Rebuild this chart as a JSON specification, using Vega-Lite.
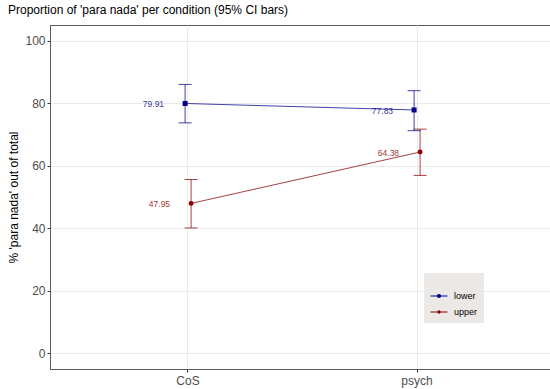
{
  "$schema": "https://vega.github.io/schema/vega-lite/v6.json",
  "width": 500,
  "height": 344,
  "autosize": {"type": "none"},
  "padding": {"left": 50, "top": 25, "right": 0, "bottom": 20},
  "title": {"text": "Proportion of 'para nada' per condition (95% CI bars)", "anchor": "start", "fontSize": 12, "fontWeight": "normal", "color": "#000000", "offset": 8, "baseline": "bottom", "dy": 12},
  "data": {"values": [
    {"condition": "CoS", "group": "lower", "value": 79.91, "lo": 73.7, "hi": 86.0},
    {"condition": "psych", "group": "lower", "value": 77.83, "lo": 71.2, "hi": 84.0},
    {"condition": "CoS", "group": "upper", "value": 47.95, "lo": 40.1, "hi": 55.6},
    {"condition": "psych", "group": "upper", "value": 64.38, "lo": 56.9, "hi": 71.7}
  ]},
  "encoding": {
    "x": {"field": "condition", "type": "nominal", "scale": {"type": "band", "paddingInner": 0, "paddingOuter": 0.1026, "range": [0, 505]},
      "axis": {"title": null, "labelAngle": 0, "labelFontSize": 12, "labelColor": "#4D4D4D", "tickColor": "#333333", "tickSize": 3, "labelPadding": 3, "domainColor": "#5a5a5a", "grid": true, "gridColor": "#EBEBEB", "bandPosition": 0.5}},
    "xOffset": {"field": "group", "type": "nominal", "scale": {"type": "point", "range": [108.6, 120.6]}}
  },
  "layer": [
    {"mark": {"type": "line", "strokeWidth": 1, "opacity": 0.75},
     "encoding": {
       "color": {"field": "group", "type": "nominal", "scale": {"domain": ["lower", "upper"], "range": ["#00008B", "#8B0000"]}},
       "y": {"field": "value", "type": "quantitative", "scale": {"domain": [-5, 105], "nice": false, "zero": false},
       "axis": {"title": "% 'para nada' out of total", "titleFontSize": 12, "titleFontWeight": "normal", "titleColor": "#000000", "titlePadding": 4,
         "values": [0, 10, 20, 30, 40, 50, 60, 70, 80, 90, 100],
         "labelExpr": "datum.value % 20 === 0 ? datum.label : ''",
         "labelFontSize": 12, "labelColor": "#4D4D4D", "labelPadding": 2, "tickSize": 3,
         "tickColor": {"condition": {"test": "datum.value % 20 === 0", "value": "#333333"}, "value": "transparent"},
         "gridColor": {"condition": {"test": "datum.value % 20 === 0", "value": "#EBEBEB"}, "value": "#F5F5F5"},
         "domainColor": "#5a5a5a"}}}},
    {"mark": {"type": "rule", "strokeWidth": 1, "opacity": 0.75},
     "encoding": {"color": {"field": "group", "type": "nominal"}, "y": {"field": "lo", "type": "quantitative"}, "y2": {"field": "hi"}}},
    {"mark": {"type": "tick", "thickness": 1, "size": 13, "opacity": 0.75},
     "encoding": {"color": {"field": "group", "type": "nominal"}, "y": {"field": "lo", "type": "quantitative"}}},
    {"mark": {"type": "tick", "thickness": 1, "size": 13, "opacity": 0.75},
     "encoding": {"color": {"field": "group", "type": "nominal"}, "y": {"field": "hi", "type": "quantitative"}}},
    {"transform": [{"filter": "datum.group === 'lower'"}],
     "mark": {"type": "point", "shape": "square", "filled": true, "opacity": 1, "size": 25},
     "encoding": {"color": {"field": "group", "type": "nominal"}, "y": {"field": "value", "type": "quantitative"}}},
    {"transform": [{"filter": "datum.group === 'upper'"}],
     "mark": {"type": "point", "shape": "circle", "filled": true, "opacity": 1, "size": 24},
     "encoding": {"color": {"field": "group", "type": "nominal"}, "y": {"field": "value", "type": "quantitative"}}},
    {"mark": {"type": "text", "align": "right", "baseline": "middle", "dx": -21, "dy": 1, "fontSize": 8.5, "opacity": 0.8},
     "encoding": {"color": {"field": "group", "type": "nominal"}, "y": {"field": "value", "type": "quantitative"}, "text": {"field": "value", "type": "quantitative", "format": ".2f"}}},
    {"transform": [{"filter": "datum.value < -1000"}],
     "mark": {"type": "point", "filled": false, "strokeWidth": 1},
     "encoding": {
       "color": {"field": "group", "type": "nominal",
         "legend": {"title": " ", "orient": "none", "legendX": 374, "legendY": 248}},
       "shape": {"field": "group", "type": "nominal", "scale": {"domain": ["lower", "upper"], "range": [
           "M-1,0H1M-0.147,-0.147H0.147V0.147H-0.147ZM-0.147,-0.06H0.147M-0.147,0.06H0.147",
           "M-1,0H1M0.15,0A0.15,0.15,0,1,1,-0.15,0A0.15,0.15,0,1,1,0.15,0ZM0.075,0A0.075,0.075,0,1,1,-0.075,0A0.075,0.075,0,1,1,0.075,0Z"]},
         "legend": {"title": " ", "orient": "none", "legendX": 374, "legendY": 248}},
       "y": {"field": "value", "type": "quantitative"}}}
  ],
  "config": {
    "font": "Liberation Sans",
    "view": {"stroke": "#5a5a5a", "strokeWidth": 1},
    "legend": {"fillColor": "#EBE8E6", "padding": 6, "titleFontSize": 6, "titlePadding": 2, "symbolSize": 289, "symbolStrokeWidth": 1, "symbolOpacity": 1, "labelFontSize": 9, "labelColor": "#000000", "labelOffset": 6, "rowPadding": 2}
  }
}
